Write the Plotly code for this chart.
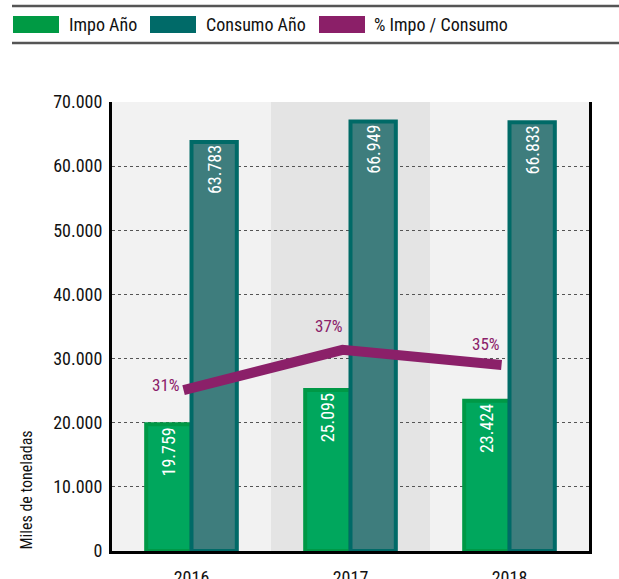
import plotly.graph_objects as go

years = ["2016", "2017", "2018"]
impo = [19759, 25095, 23424]
consumo = [63783, 66949, 66833]
pct = [30.98, 37.48, 35.05]
impo_labels = ["19.759", "25.095", "23.424"]
consumo_labels = ["63.783", "66.949", "66.833"]
pct_labels = ["31%", "37%", "35%"]
y_ticks = [0, 10000, 20000, 30000, 40000, 50000, 60000, 70000]
y_tick_labels = ["0", "10.000", "20.000", "30.000", "40.000", "50.000", "60.000", "70.000"]

FONT = "Roboto Condensed, Liberation Sans Narrow, Roboto, sans-serif"
GREEN = "#00a75d"
GREEN_LINE = "#009846"
TEAL = "#3e7d7d"
TEAL_LINE = "#006a67"
PURPLE = "#8b2069"

W, H = 619, 579
L, R, T, B = 112, 30, 102, 28
PW, PH = W - L - R, H - T - B

def px(x):
    return (x - L) / PW

def py(y):
    return (H - B - y) / PH

fig = go.Figure()
fig.add_trace(go.Bar(
    x=years, y=impo, name="Impo Año",
    marker=dict(color=GREEN, line=dict(color=GREEN_LINE, width=4)),
    text=impo_labels, textposition="inside", insidetextanchor="end",
    textangle=-90, textfont=dict(color="white", size=18, family=FONT),
    cliponaxis=False,
))
fig.add_trace(go.Bar(
    x=years, y=consumo, name="Consumo Año",
    marker=dict(color=TEAL, line=dict(color=TEAL_LINE, width=4)),
    text=consumo_labels, textposition="inside", insidetextanchor="end",
    textangle=-90, textfont=dict(color="white", size=18, family=FONT),
    cliponaxis=False,
))
fig.add_trace(go.Scatter(
    x=years, y=pct, name="% Impo / Consumo", xaxis="x2", yaxis="y2",
    mode="lines", line=dict(color=PURPLE, width=10),
))

# percentage labels (pixel offsets from the line vertex); category axis -> index positions
offsets = [(-18, 5), (-14, 24), (-16, 21)]
for i, (p, lab) in enumerate(zip(pct, pct_labels)):
    fig.add_annotation(x=i, y=p, xref="x2", yref="y2", text=lab, showarrow=False,
                       xshift=offsets[i][0], yshift=offsets[i][1],
                       font=dict(color=PURPLE, size=17, family=FONT))

# band behind 2017
fig.add_shape(type="rect", xref="x", yref="paper", x0=0.5, x1=1.5, y0=0, y1=1,
              fillcolor="#e4e4e4", line=dict(width=0), layer="below")

# legend drawn manually
for yline in (6, 43):
    fig.add_shape(type="line", xref="paper", yref="paper", x0=px(12), x1=px(619),
                  y0=py(yline), y1=py(yline), line=dict(color="#555555", width=2.5))
legend_items = [("Impo Año", "#009a44", 13, 67), ("Consumo Año", "#006a68", 150, 204),
                ("% Impo / Consumo", "#8b1f68", 319, 372)]
for name, col, x0, tx in legend_items:
    fig.add_shape(type="rect", xref="paper", yref="paper", x0=px(x0), x1=px(x0 + 46),
                  y0=py(33), y1=py(16), fillcolor=col, line=dict(width=0))
    fig.add_annotation(xref="paper", yref="paper", x=px(tx), y=py(25), text=name,
                       showarrow=False, xanchor="left", yanchor="middle",
                       font=dict(size=18, color="#111111", family=FONT))

fig.add_annotation(xref="paper", yref="paper", x=px(26), y=py(552), text="Miles de toneladas",
                   textangle=-90, showarrow=False, xanchor="center", yanchor="bottom",
                   font=dict(size=16, color="#111111", family=FONT))

fig.update_layout(
    width=W, height=H, margin=dict(l=L, r=R, t=T, b=B),
    paper_bgcolor="white", plot_bgcolor="#f2f2f2",
    barmode="group", bargap=0.43, bargroupgap=0,
    showlegend=False,
    font=dict(family=FONT, color="#111111"),
    xaxis=dict(type="category", showline=True, linecolor="black", linewidth=3, showgrid=False,
               tickfont=dict(size=18, family=FONT, color="#111111"), automargin=False,
               ticks="", ticklabelstandoff=8, zeroline=False),
    xaxis2=dict(type="category", overlaying="x", range=[-0.45, 2.55], visible=False),
    yaxis=dict(range=[0, 70000], tickvals=y_ticks, ticktext=y_tick_labels,
               showline=True, linecolor="black", linewidth=3, mirror=True,
               showgrid=True, gridcolor="#555555", griddash="dot", gridwidth=1,
               tickfont=dict(size=18, family=FONT, color="#111111"), automargin=False,
               ticks="", ticklabelstandoff=3, zeroline=False),
    yaxis2=dict(range=[5, 77.5], overlaying="y", side="right", visible=False),
)

fig.write_html("out.html", config={"displayModeBar": False},
               post_script="document.body.style.margin='0';")
